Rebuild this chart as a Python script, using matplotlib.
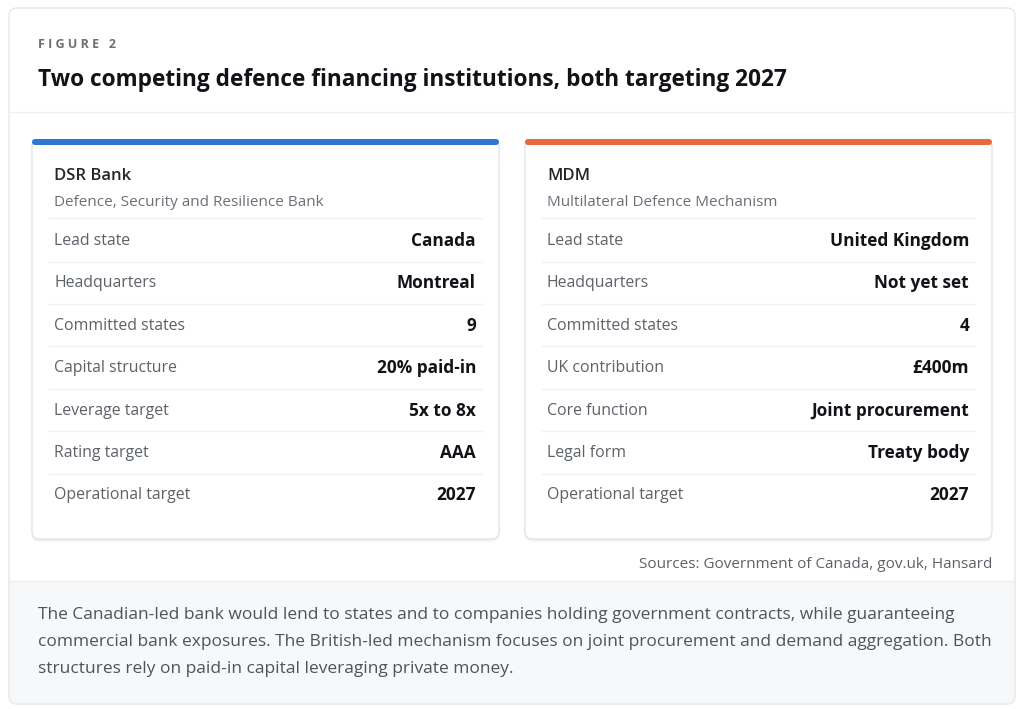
import matplotlib.pyplot as plt
from matplotlib.patches import FancyBboxPatch, Rectangle

plt.rcParams['font.family'] = ['Open Sans', 'DejaVu Sans']

# data
fig_label = "F I G U R E   2"
title = "Two competing defence financing institutions, both targeting 2027"

card_names = ["DSR Bank", "MDM"]
card_subtitles = ["Defence, Security and Resilience Bank", "Multilateral Defence Mechanism"]
card_colors = ["#2f78d1", "#e86a3a"]

dsr_labels = ["Lead state", "Headquarters", "Committed states", "Capital structure",
              "Leverage target", "Rating target", "Operational target"]
dsr_values = ["Canada", "Montreal", "9", "20% paid-in", "5x to 8x", "AAA", "2027"]

mdm_labels = ["Lead state", "Headquarters", "Committed states", "UK contribution",
              "Core function", "Legal form", "Operational target"]
mdm_values = ["United Kingdom", "Not yet set", "4", "£400m",
              "Joint procurement", "Treaty body", "2027"]

sources = "Sources: Government of Canada, gov.uk, Hansard"
note_lines = [
    "The Canadian-led bank would lend to states and to companies holding government contracts, while guaranteeing",
    "commercial bank exposures. The British-led mechanism focuses on joint procurement and demand aggregation. Both",
    "structures rely on paid-in capital leveraging private money.",
]

fig = plt.figure(figsize=(10.24, 7.09), dpi=100)
ax = fig.add_axes([0, 0, 1, 1])
ax.set_xlim(0, 1024)
ax.set_ylim(709, 0)
ax.axis('off')

# outer card
ax.add_patch(FancyBboxPatch((9, 8), 1006, 696, boxstyle="round,pad=0,rounding_size=8",
                            fc="white", ec="#e6e8eb", lw=1))
# footer band
ax.add_patch(Rectangle((10, 581), 1004, 116, fc="#f7f8fa", ec="none"))
ax.add_patch(FancyBboxPatch((10, 660), 1004, 43, boxstyle="round,pad=0,rounding_size=7",
                            fc="#f7f8fa", ec="none"))
ax.plot([10, 1014], [581, 581], color="#eceef1", lw=1)
# header separator
ax.plot([10, 1014], [112, 112], color="#eff0f2", lw=1)

ax.text(38, 45, fig_label, fontsize=9, fontweight='bold', color="#6b6f76", va='center')
ax.text(38, 80, title, fontsize=16.3, fontweight='bold', color="#111318", va='center')

cards = [(dsr_labels, dsr_values), (mdm_labels, mdm_values)]
for i, (labels, values) in enumerate(cards):
    x0 = 32 + i * 493
    w = 467
    # shadow + card
    ax.add_patch(FancyBboxPatch((x0, 141.5), w, 400, boxstyle="round,pad=0,rounding_size=7",
                                fc="#f0f1f3", ec="none"))
    ax.add_patch(FancyBboxPatch((x0, 140), w, 399, boxstyle="round,pad=0,rounding_size=7",
                                fc="white", ec="#e1e4e8", lw=1))
    ax.add_patch(FancyBboxPatch((x0, 139), w, 6, boxstyle="round,pad=0,rounding_size=3",
                                fc=card_colors[i], ec="none"))
    lx = x0 + 22
    rx = x0 + w - 23
    ax.text(lx, 176, card_names[i], fontsize=12, fontweight='semibold', color="#23262b", va='center')
    ax.text(lx, 202, card_subtitles[i], fontsize=11, color="#6b6f76", va='center')
    ax.plot([x0 + 17, x0 + w - 17], [218, 218], color="#eceef1", lw=1)
    for j, (lab, val) in enumerate(zip(labels, values)):
        y = 241 + j * 42.4
        ax.text(lx, y, lab, fontsize=11.4, color="#5d6168", va='center')
        ax.text(rx, y, val, fontsize=12.4, fontweight='bold', color="#111318",
                va='center', ha='right')
        if j < len(labels) - 1:
            ax.plot([x0 + 17, x0 + w - 17], [y + 20.5, y + 20.5], color="#f1f2f4", lw=1)

ax.text(992, 564, sources, fontsize=10.95, color="#5d6168", va='center', ha='right')

for k, line in enumerate(note_lines):
    ax.text(38, 615 + k * 27, line, fontsize=12.5, color="#4f535a", va='center')

fig.savefig("out.png", dpi=100)
